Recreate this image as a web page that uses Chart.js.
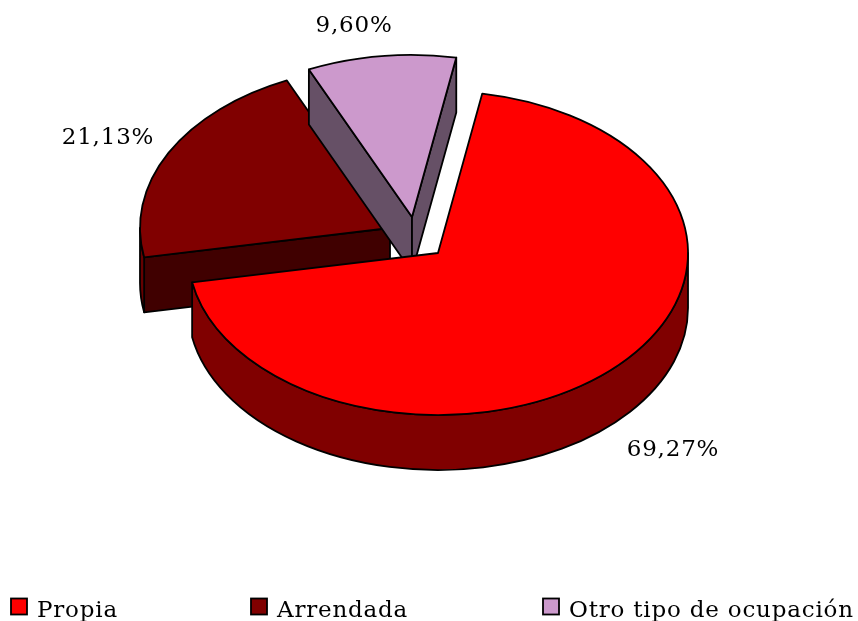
<!DOCTYPE html>
<html lang="es">
<head>
<meta charset="utf-8">
<title>Tipo de ocupación</title>
<script src="https://cdn.jsdelivr.net/npm/chart.js@4/dist/chart.umd.min.js"></script>
<style>
    html, body { margin: 0; padding: 0; background: #fff; }
    #wrap { width: 858px; height: 621px; }
</style>
</head>
<body>
<div id="wrap"><canvas id="grafico"></canvas></div>
<script>
const categorias = ['Propia', 'Arrendada', 'Otro tipo de ocupación'];
const valores = [69.27, 21.13, 9.60];
const etiquetas = ['69,27%', '21,13%', '9,60%'];

const coresTopo = ['#ff0000', '#800000', '#cc99cc'];
const coresLado = ['#800000', '#660000', '#665066'];
const coresFace = ['#800000', '#400000', '#665066'];

// centro na tela de cada fatia (a explosao do pie 3D nao e radial)
const centros = [[438, 253], [390, 228], [412, 217]];
const posEtiquetas = [[673, 450], [108, 138], [354, 26]];
const posLegenda = [11, 251, 543];

const RAIO = 250;
const ACHATADO = 162 / 250;
const ALTURA = 55;
const FONTE = '"DejaVu Serif", serif';

function caminhoTopo(ctx, c, a1, a2) {
    ctx.beginPath();
    ctx.moveTo(c[0], c[1]);
    ctx.ellipse(c[0], c[1], RAIO, RAIO * ACHATADO, 0, a1, a2);
    ctx.closePath();
}

function desenhaFace(ctx, c, ang, cor) {
    const x = c[0] + Math.cos(ang) * RAIO;
    const y = c[1] + Math.sin(ang) * RAIO * ACHATADO;
    ctx.beginPath();
    ctx.moveTo(c[0], c[1]);
    ctx.lineTo(x, y);
    ctx.lineTo(x, y + ALTURA);
    ctx.lineTo(c[0], c[1] + ALTURA);
    ctx.closePath();
    ctx.fillStyle = cor;
    ctx.fill();
    ctx.stroke();
}

function desenhaLateral(ctx, c, a1, a2, cor) {
    // so a parte da borda virada para a frente aparece
    const ini = Math.max(a1, 0);
    const fim = Math.min(a2, Math.PI);
    if (fim <= ini) return;
    ctx.beginPath();
    ctx.ellipse(c[0], c[1], RAIO, RAIO * ACHATADO, 0, ini, fim);
    ctx.ellipse(c[0], c[1] + ALTURA, RAIO, RAIO * ACHATADO, 0, fim, ini, true);
    ctx.closePath();
    ctx.fillStyle = cor;
    ctx.fill();
    ctx.stroke();
}

const pizza3d = {
    id: 'pizza3d',
    beforeDatasetDraw(chart) {
        const ctx = chart.ctx;
        const arcos = chart.getDatasetMeta(0).data;
        ctx.save();
        ctx.strokeStyle = '#000';
        ctx.lineWidth = 1.8;
        ctx.lineJoin = 'round';
        // ordem: fundo primeiro, a fatia vermelha cobre as outras
        [1, 2, 0].forEach(i => {
            const a = arcos[i];
            const c = centros[i];
            if (Math.sin(a.startAngle - Math.PI / 2) > 0) desenhaFace(ctx, c, a.startAngle, coresFace[i]);
            if (Math.sin(a.endAngle + Math.PI / 2) > 0) desenhaFace(ctx, c, a.endAngle, coresFace[i]);
            desenhaLateral(ctx, c, a.startAngle, a.endAngle, coresLado[i]);
            caminhoTopo(ctx, c, a.startAngle, a.endAngle);
            ctx.fillStyle = coresTopo[i];
            ctx.fill();
            ctx.stroke();
        });
        ctx.restore();
        return false;
    },
    afterDraw(chart) {
        const ctx = chart.ctx;
        ctx.save();
        ctx.font = '23px ' + FONTE;
        ctx.letterSpacing = '0.8px';
        ctx.fillStyle = '#000';
        ctx.textAlign = 'center';
        ctx.textBaseline = 'middle';
        etiquetas.forEach((t, i) => ctx.fillText(t, posEtiquetas[i][0], posEtiquetas[i][1]));

        // legenda manual: a do Chart.js quebra linha com esse espacamento
        ctx.textAlign = 'left';
        ctx.textBaseline = 'alphabetic';
        ctx.strokeStyle = '#000';
        ctx.lineWidth = 1.8;
        categorias.forEach((nome, i) => {
            const x = posLegenda[i];
            ctx.fillStyle = coresTopo[i];
            ctx.fillRect(x, 598.5, 16, 16);
            ctx.strokeRect(x, 598.5, 16, 16);
            ctx.fillStyle = '#000';
            ctx.fillText(nome, x + 26, 617);
        });
        ctx.restore();
    }
};

new Chart(document.getElementById('grafico'), {
    type: 'pie',
    data: {
        labels: categorias,
        datasets: [{
            data: valores,
            backgroundColor: coresTopo,
            borderColor: '#000',
            borderWidth: 1.5,
            radius: RAIO
        }]
    },
    options: {
        responsive: true,
        maintainAspectRatio: false,
        animation: false,
        rotation: 10.2,
        plugins: {
            tooltip: { enabled: false },
            legend: { display: false }
        }
    },
    plugins: [pizza3d]
});
</script>
</body>
</html>
